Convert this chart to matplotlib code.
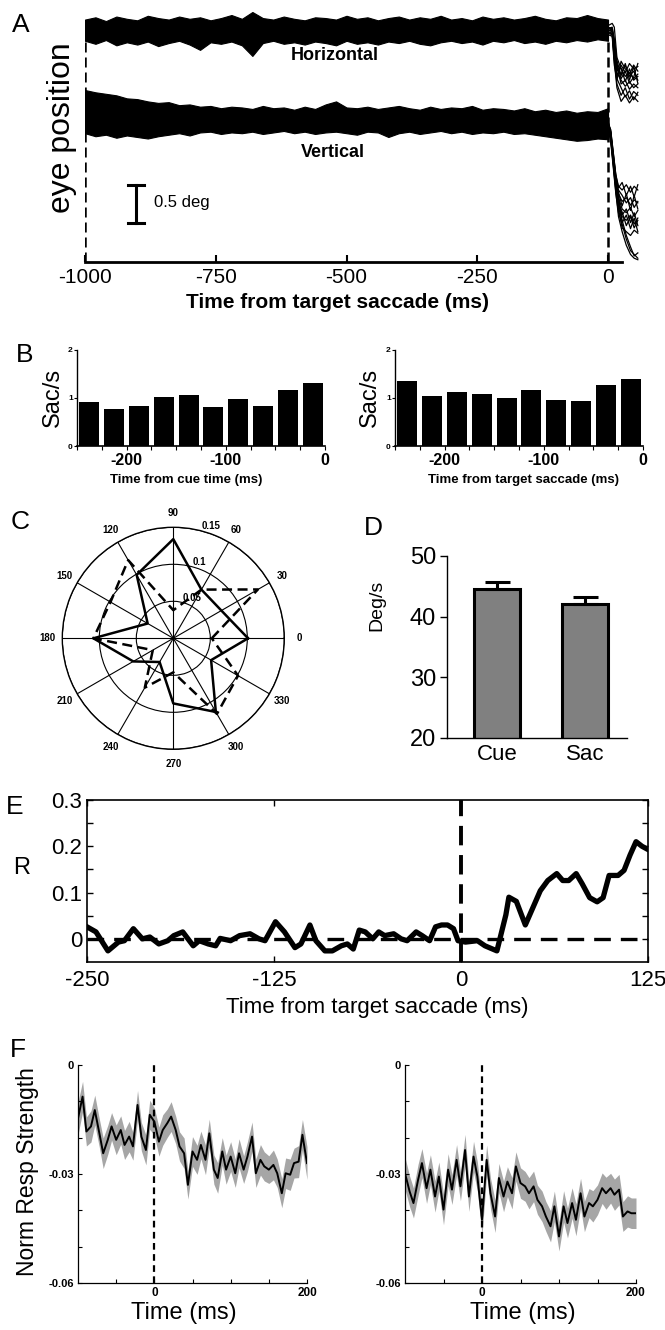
import numpy as np
import matplotlib
matplotlib.use('Agg')
import matplotlib.pyplot as plt
from matplotlib.ticker import MultipleLocator, FixedLocator

plt.rcParams['font.family'] = ['Liberation Sans', 'DejaVu Sans']

# ---------------- Panel A: eye position traces (deg) ----------------
A_T = [-1000, -980, -960, -940, -920, -900, -880, -860, -840, -820, -800, -780, -760,
       -740, -720, -700, -680, -660, -640, -620, -600, -580, -560, -540, -520, -500,
       -480, -460, -440, -420, -400, -380, -360, -340, -320, -300, -280, -260, -240,
       -220, -200, -180, -160, -140, -120, -100, -80, -60, -40, -20, 0]
A_H_HI = [3.20, 3.23, 3.18, 3.24, 3.21, 3.19, 3.25, 3.22, 3.20, 3.24,
          3.21, 3.23, 3.19, 3.22, 3.26, 3.21, 3.30, 3.22, 3.20, 3.24,
          3.21, 3.19, 3.23, 3.22, 3.20, 3.25, 3.21, 3.23, 3.19, 3.22,
          3.24, 3.20, 3.23, 3.21, 3.25, 3.20, 3.22, 3.19, 3.24, 3.21,
          3.23, 3.20, 3.22, 3.25, 3.21, 3.19, 3.23, 3.22, 3.26, 3.22, 3.20]
A_H_LO = [2.92, 2.88, 2.93, 2.86, 2.90, 2.87, 2.91, 2.85, 2.89, 2.92,
          2.87, 2.80, 2.90, 2.88, 2.91, 2.86, 2.72, 2.89, 2.92, 2.88,
          2.90, 2.87, 2.91, 2.89, 2.86, 2.92, 2.88, 2.90, 2.87, 2.91,
          2.89, 2.92, 2.88, 2.86, 2.90, 2.92, 2.89, 2.91, 2.87, 2.92,
          2.90, 2.93, 2.89, 2.91, 2.88, 2.92, 2.90, 2.93, 2.91, 2.94, 2.92]
A_V_HI = [2.27, 2.24, 2.22, 2.20, 2.16, 2.15, 2.12, 2.10, 2.11, 2.07,
          2.08, 2.05, 2.06, 2.03, 2.05, 2.04, 2.02, 2.06, 2.03, 2.04,
          2.01, 2.05, 2.02, 2.08, 2.12, 2.04, 2.03, 2.05, 2.02, 2.04,
          2.06, 2.03, 2.01, 2.05, 2.02, 2.04, 2.03, 2.06, 2.01, 2.03,
          2.02, 2.00, 2.03, 1.99, 2.01, 1.98, 2.00, 1.97, 1.99, 1.98, 2.03]
A_V_LO = [1.70, 1.66, 1.68, 1.64, 1.67, 1.65, 1.63, 1.66, 1.68, 1.70,
          1.67, 1.71, 1.72, 1.69, 1.71, 1.70, 1.72, 1.69, 1.71, 1.73,
          1.70, 1.72, 1.69, 1.71, 1.72, 1.70, 1.68, 1.72, 1.71, 1.65,
          1.70, 1.72, 1.69, 1.71, 1.73, 1.70, 1.72, 1.69, 1.71, 1.70,
          1.72, 1.69, 1.70, 1.68, 1.66, 1.64, 1.62, 1.60, 1.61, 1.63, 1.62]
A_SAC_T_H = [0, 8, 12, 17, 25, 33, 41, 49, 57]
A_H_SAC = [
    [3.06, 3.05, 2.80, 2.55, 2.48, 2.60, 2.45, 2.52, 2.40],
    [3.10, 3.08, 2.70, 2.35, 2.20, 2.30, 2.15, 2.25, 2.20],
    [3.02, 3.00, 2.75, 2.45, 2.60, 2.50, 2.62, 2.55, 2.58],
    [3.08, 3.10, 2.90, 2.60, 2.35, 2.40, 2.28, 2.35, 2.30],
    [3.04, 3.02, 2.65, 2.30, 2.12, 2.20, 2.10, 2.18, 2.12],
    [3.12, 3.15, 3.10, 2.70, 2.55, 2.45, 2.50, 2.42, 2.48],
    [3.06, 3.04, 2.78, 2.50, 2.40, 2.32, 2.38, 2.30, 2.35],
    [3.00, 2.98, 2.60, 2.40, 2.65, 2.55, 2.48, 2.60, 2.52],
    [3.05, 3.07, 2.85, 2.62, 2.42, 2.52, 2.36, 2.44, 2.62],
    [3.09, 3.06, 2.72, 2.42, 2.30, 2.18, 2.26, 2.14, 2.24],
    [3.03, 3.01, 2.68, 2.52, 2.56, 2.38, 2.55, 2.40, 2.45],
    [3.07, 3.09, 2.95, 2.66, 2.46, 2.62, 2.40, 2.58, 2.36],
]
A_SAC_T_V = [0, 5, 10, 15, 20, 27, 35, 43, 50, 57]
A_V_SAC = [
    [1.80, 1.70, 1.40, 1.10, 0.90, 0.80, 0.85, 0.75, 0.82, 0.78],
    [1.85, 1.72, 1.35, 1.00, 0.75, 0.60, 0.55, 0.62, 0.50, 0.58],
    [1.78, 1.65, 1.30, 0.95, 0.70, 0.45, 0.40, 0.35, 0.42, 0.38],
    [1.82, 1.75, 1.45, 1.15, 1.00, 0.95, 1.02, 0.92, 1.00, 0.95],
    [1.76, 1.60, 1.25, 0.90, 0.65, 0.50, 0.30, 0.15, 0.10, 0.05],
    [1.84, 1.70, 1.35, 1.05, 0.85, 0.70, 0.65, 0.72, 0.60, 0.68],
    [1.80, 1.68, 1.32, 0.98, 0.72, 0.55, 0.35, 0.20, 0.08, 0.12],
    [1.79, 1.66, 1.38, 1.08, 0.95, 0.88, 0.78, 0.85, 0.72, 0.80],
    [1.83, 1.72, 1.42, 1.12, 0.80, 0.62, 0.70, 0.52, 0.65, 0.48],
    [1.77, 1.62, 1.28, 0.92, 0.60, 0.40, 0.22, 0.10, 0.05, 0.03],
    [1.81, 1.69, 1.37, 1.06, 0.92, 0.74, 0.90, 0.68, 0.88, 0.70],
    [1.86, 1.74, 1.44, 1.14, 0.98, 1.05, 0.88, 1.00, 0.86, 1.02],
    [1.78, 1.64, 1.33, 1.02, 0.78, 0.66, 0.48, 0.60, 0.45, 0.55],
    [1.82, 1.71, 1.36, 1.03, 0.88, 0.52, 0.62, 0.44, 0.58, 0.40],
]
A_XTICKS = [-1000, -750, -500, -250, 0]

# ---------------- Panel B: saccade rate histograms ----------------
B_BINS = [-237.5, -212.5, -187.5, -162.5, -137.5, -112.5, -87.5, -62.5, -37.5, -12.5]
B_CUE = [0.92, 0.78, 0.84, 1.02, 1.07, 0.82, 0.97, 0.84, 1.16, 1.31]
B_SAC = [1.35, 1.05, 1.12, 1.08, 0.99, 1.17, 0.95, 0.94, 1.28, 1.40]

# ---------------- Panel C: polar direction distributions ----------------
C_ANGLES = [0, 30, 60, 90, 120, 150, 180, 210, 240, 270, 300, 330]
C_SOLID = [0.101, 0.075, 0.076, 0.134, 0.099, 0.040, 0.108, 0.0625, 0.037, 0.088, 0.115, 0.059]
C_DASHED = [0.052, 0.132, 0.076, 0.038, 0.122, 0.098, 0.108, 0.032, 0.077, 0.046, 0.118, 0.101]

# ---------------- Panel D: saccade velocity ----------------
D_CATS = ['Cue', 'Sac']
D_VALS = [44.6, 42.1]
D_ERR = [1.1, 1.1]

# ---------------- Panel E: correlation R ----------------
E_T = [-250, -244, -236, -229, -225, -219, -213, -208, -202, -196, -192, -186, -179,
       -175, -169, -164, -161, -154, -148, -141, -135, -131, -124, -118, -111, -107,
       -101, -97, -91, -86, -80, -76, -72, -68, -64, -59, -55, -51, -45, -40, -36,
       -30, -26, -21, -17, -13, -9, -5, -2, 3, 11, 16, 24, 30, 32, 37, 43, 48, 53,
       58, 64, 68, 72, 77, 81, 86, 91, 95, 99, 105, 109, 113, 117, 121, 125]
E_R = [0.026, 0.015, -0.026, -0.007, -0.004, 0.022, 0.000, 0.004, -0.011, -0.004,
       0.007, 0.015, -0.015, -0.004, -0.011, -0.015, 0.001, -0.004, 0.007, 0.011,
       0.000, -0.004, 0.037, 0.015, -0.019, -0.011, 0.030, -0.004, -0.026, -0.026,
       -0.015, -0.011, -0.022, 0.019, 0.015, 0.000, 0.015, 0.007, 0.011, 0.000,
       -0.004, 0.015, 0.007, -0.004, 0.026, 0.030, 0.030, 0.022, -0.004, -0.007,
       -0.004, -0.015, -0.026, 0.052, 0.090, 0.081, 0.030, 0.067, 0.104, 0.126,
       0.141, 0.126, 0.126, 0.141, 0.119, 0.089, 0.080, 0.089, 0.137, 0.137,
       0.148, 0.181, 0.210, 0.200, 0.193]

# ---------------- Panel F: normalized response strength ----------------
F_T = [-100, -94, -89, -83, -78, -72, -67, -61, -56, -50, -44, -39, -33, -28, -22,
       -17, -11, -6, 0, 6, 11, 17, 22, 28, 33, 39, 44, 50, 56, 61, 67, 72, 78, 83,
       89, 94, 100, 106, 111, 117, 122, 128, 133, 139, 144, 150, 156, 161, 167,
       172, 178, 183, 189, 194, 200]
F_LEFT = [-0.0147, -0.0087, -0.0183, -0.0169, -0.0124, -0.0188, -0.0243, -0.0206,
          -0.0169, -0.0206, -0.0179, -0.0220, -0.0197, -0.0224, -0.0110, -0.0197,
          -0.0234, -0.0137, -0.0156, -0.0211, -0.0179, -0.0160, -0.0142, -0.0179,
          -0.0224, -0.0243, -0.0330, -0.0238, -0.0261, -0.0220, -0.0261, -0.0188,
          -0.0288, -0.0311, -0.0238, -0.0288, -0.0252, -0.0298, -0.0243, -0.0288,
          -0.0252, -0.0197, -0.0298, -0.0261, -0.0279, -0.0288, -0.0275, -0.0298,
          -0.0353, -0.0298, -0.0302, -0.0270, -0.0266, -0.0192, -0.0270]
F_LEFT_SEM = [0.0045, 0.0042, 0.0040, 0.0043, 0.0041, 0.0039, 0.0042, 0.0040, 0.0038,
              0.0041, 0.0039, 0.0040, 0.0042, 0.0038, 0.0040, 0.0039, 0.0041, 0.0040,
              0.0038, 0.0040, 0.0042, 0.0039, 0.0041, 0.0038, 0.0040, 0.0042, 0.0039,
              0.0041, 0.0040, 0.0038, 0.0041, 0.0039, 0.0040, 0.0042, 0.0038, 0.0040,
              0.0041, 0.0039, 0.0040, 0.0038, 0.0041, 0.0040, 0.0039, 0.0042, 0.0040,
              0.0038, 0.0041, 0.0039, 0.0040, 0.0042, 0.0043, 0.0041, 0.0044, 0.0042,
              0.0045]
F_RIGHT = [-0.0298, -0.0348, -0.0380, -0.0316, -0.0270, -0.0339, -0.0288, -0.0362,
           -0.0307, -0.0398, -0.0288, -0.0343, -0.0261, -0.0334, -0.0234, -0.0362,
           -0.0252, -0.0307, -0.0426, -0.0261, -0.0353, -0.0417, -0.0311, -0.0362,
           -0.0321, -0.0353, -0.0279, -0.0325, -0.0334, -0.0353, -0.0334, -0.0371,
           -0.0389, -0.0417, -0.0444, -0.0389, -0.0472, -0.0389, -0.0435, -0.0380,
           -0.0426, -0.0353, -0.0417, -0.0380, -0.0389, -0.0371, -0.0339, -0.0353,
           -0.0339, -0.0357, -0.0343, -0.0417, -0.0403, -0.0408, -0.0408]
F_RIGHT_SEM = [0.0044, 0.0042, 0.0041, 0.0043, 0.0040, 0.0042, 0.0041, 0.0043, 0.0040,
               0.0042, 0.0044, 0.0041, 0.0042, 0.0040, 0.0043, 0.0041, 0.0042, 0.0040,
               0.0043, 0.0041, 0.0042, 0.0044, 0.0040, 0.0042, 0.0041, 0.0043, 0.0040,
               0.0042, 0.0041, 0.0043, 0.0042, 0.0040, 0.0042, 0.0041, 0.0043, 0.0042,
               0.0040, 0.0043, 0.0041, 0.0042, 0.0044, 0.0041, 0.0042, 0.0040, 0.0043,
               0.0041, 0.0042, 0.0044, 0.0041, 0.0043, 0.0042, 0.0041, 0.0043, 0.0042,
               0.0042]

W, H = 665, 1330
fig = plt.figure(figsize=(W / 100, H / 100), dpi=100)


def rect(x0, y0, x1, y1):
    return [x0 / W, 1 - y1 / H, (x1 - x0) / W, (y1 - y0) / H]


def ftext(x, y, s, **kw):
    kw.setdefault('ha', 'center')
    kw.setdefault('va', 'center')
    fig.text(x / W, 1 - y / H, s, **kw)


# ======================= Panel A =======================
axA = fig.add_axes(rect(85, 12, 639.4, 262))
axA.fill_between(A_T, A_H_LO, A_H_HI, color='black', lw=0.8, edgecolor='black')
axA.fill_between(A_T, A_V_LO, A_V_HI, color='black', lw=0.8, edgecolor='black')
for tr in A_H_SAC:
    axA.plot(A_SAC_T_H, tr, color='black', lw=0.9, clip_on=False)
for tr in A_V_SAC:
    axA.plot(A_SAC_T_V, tr, color='black', lw=0.9, clip_on=False)
axA.plot([-1000, -1000], [0, 2.93], color='black', lw=1.8, ls=(0, (4, 2)))
axA.plot([0, 0], [0, 2.93], color='black', lw=1.8, ls=(0, (4, 2)))
# scale bar
axA.plot([-902, -902], [0.515, 1.015], color='black', lw=2.2)
axA.plot([-917, -887], [0.515, 0.515], color='black', lw=2.2)
axA.plot([-917, -887], [1.015, 1.015], color='black', lw=2.2)
axA.text(-868, 0.78, '0.5 deg', fontsize=12, va='center', ha='left')
axA.text(-522, 2.73, 'Horizontal', fontsize=13, fontweight='bold', ha='center', va='center')
axA.text(-526, 1.45, 'Vertical', fontsize=13, fontweight='bold', ha='center', va='center')
axA.set_xlim(-1000, 60)
axA.set_ylim(0, 3.3)
for s in ['left', 'top', 'right']:
    axA.spines[s].set_visible(False)
axA.spines['bottom'].set_linewidth(2.0)
axA.spines['bottom'].set_bounds(-1000, 27)
axA.set_yticks([])
axA.set_xticks(A_XTICKS)
axA.set_xticklabels([str(v) for v in A_XTICKS], fontsize=15)
axA.tick_params(axis='x', direction='in', length=5, width=1.5, pad=4)
ftext(21, 25, 'A', fontsize=19)
ftext(62, 128, 'eye position', fontsize=23, rotation=90)
ftext(338, 302, 'Time from target saccade (ms)', fontsize=15, fontweight='bold')


# ======================= Panel B =======================
def bar_panel(r, vals, xlabel, xlab_x, ylab_x):
    ax = fig.add_axes(rect(*r))
    ax.bar(B_BINS, vals, width=20, color='black')
    ax.set_xlim(-250, 0)
    ax.set_ylim(0, 2)
    for s in ['top', 'right']:
        ax.spines[s].set_visible(False)
    ax.spines['left'].set_linewidth(1)
    ax.spines['bottom'].set_linewidth(1.2)
    ax.set_xticks([-200, -100, 0])
    ax.set_xticklabels(['-200', '-100', '0'], fontsize=11.5, fontweight='bold')
    ax.xaxis.set_minor_locator(MultipleLocator(25))
    ax.tick_params(axis='x', which='both', direction='out', length=3, width=0.8, pad=2)
    ax.set_yticks([0, 1, 2])
    ax.set_yticklabels(['0', '1', '2'], fontsize=6, fontweight='bold')
    ax.tick_params(axis='y', direction='out', length=2, width=0.8, pad=1)
    ftext(xlab_x, 480, xlabel, fontsize=9.5, fontweight='bold')
    ftext(ylab_x, 397, 'Sac/s', fontsize=17, rotation=90)
    return ax


bar_panel((77, 350, 325, 446), B_CUE, 'Time from cue time (ms)', 186, 53)
bar_panel((395, 350, 643, 446), B_SAC, 'Time from target saccade (ms)', 524, 370)
ftext(25, 355, 'B', fontsize=19)

# ======================= Panel C =======================
axC = fig.add_axes(rect(62.3, 527.3, 284.3, 749.3), projection='polar')
ang = np.deg2rad(C_ANGLES + [C_ANGLES[0]])
axC.plot(ang, C_SOLID + [C_SOLID[0]], color='black', lw=1.8)
axC.plot(ang, C_DASHED + [C_DASHED[0]], color='black', lw=1.8, ls=(0, (4, 2.2)))
axC.set_ylim(0, 0.15)
axC.set_yticks([0.05, 0.1, 0.15])
axC.set_yticklabels(['0.05', '0.1', '0.15'], fontsize=7, fontweight='bold')
axC.set_rlabel_position(75)
axC.set_thetagrids(C_ANGLES, labels=[str(a) for a in C_ANGLES], fontsize=7,
                   fontweight='bold')
axC.tick_params(axis='x', pad=0)
axC.grid(True, color='black', lw=0.8, ls='-')
axC.spines['polar'].set_linewidth(1.0)
ftext(20, 522, 'C', fontsize=19)

# ======================= Panel D =======================
axD = fig.add_axes(rect(447, 556, 627, 738))
xD = [0, 1]
axD.bar(xD, D_VALS, width=0.52, color='#808080', edgecolor='black', linewidth=2.2)
axD.errorbar(xD, D_VALS, yerr=[[0, 0], D_ERR], fmt='none', ecolor='black',
             elinewidth=2.2, capsize=9, capthick=2.2)
axD.set_xlim(-0.57, 1.48)
axD.set_ylim(20, 50)
for s in ['top', 'right']:
    axD.spines[s].set_visible(False)
axD.spines['left'].set_linewidth(1)
axD.spines['bottom'].set_linewidth(1)
axD.set_yticks([20, 30, 40, 50])
axD.set_yticklabels(['20', '30', '40', '50'], fontsize=17)
axD.tick_params(axis='y', direction='out', length=5, width=1, pad=3)
axD.set_xticks(xD)
axD.set_xticklabels(D_CATS, fontsize=16)
axD.tick_params(axis='x', length=0, pad=4)
ftext(377, 605, 'Deg/s', fontsize=14, rotation=90)
ftext(373, 528, 'D', fontsize=19)

# ======================= Panel E =======================
axE = fig.add_axes(rect(87, 800, 648, 962))
axE.axhline(0, color='black', lw=2.4, ls=(0, (5, 3)))
axE.axvline(0, color='black', lw=2.8, ls=(0, (5, 2.5)))
axE.plot(E_T, E_R, color='black', lw=3.8, solid_joinstyle='round')
axE.set_xlim(-250, 125)
axE.set_ylim(-0.05, 0.3)
for s in axE.spines.values():
    s.set_linewidth(1.2)
axE.set_xticks([-250, -125, 0, 125])
axE.set_xticklabels(['-250', '-125', '0', '125'], fontsize=16)
axE.set_yticks([0, 0.1, 0.2, 0.3])
axE.set_yticklabels(['0', '0.1', '0.2', '0.3'], fontsize=16)
axE.yaxis.set_minor_locator(FixedLocator([0.05, 0.15, 0.25]))
axE.tick_params(axis='both', which='both', direction='in', top=True, right=True,
                length=4, width=1)
axE.tick_params(axis='x', pad=6)
ftext(377, 1008, 'Time from target saccade (ms)', fontsize=16)
ftext(22, 868, 'R', fontsize=17)
ftext(15, 807, 'E', fontsize=19)


# ======================= Panel F =======================
def f_panel(r, mean, sem, xlab_x):
    ax = fig.add_axes(rect(*r))
    lo = [m - s for m, s in zip(mean, sem)]
    hi = [m + s for m, s in zip(mean, sem)]
    ax.fill_between(F_T, lo, hi, color='#a6a6a6', lw=0)
    ax.plot(F_T, mean, color='black', lw=1.4)
    ax.axvline(0, color='black', lw=1.6, ls=(0, (3, 2)))
    ax.set_xlim(-100, 200)
    ax.set_ylim(-0.06, 0)
    for s in ['top', 'right']:
        ax.spines[s].set_visible(False)
    ax.spines['left'].set_linewidth(0.9)
    ax.spines['bottom'].set_linewidth(0.9)
    ax.set_xticks([0, 200])
    ax.set_xticklabels(['0', '200'], fontsize=8.5, fontweight='bold')
    ax.xaxis.set_minor_locator(FixedLocator([-50, 50, 100, 150]))
    ax.set_yticks([-0.06, -0.03, 0])
    ax.set_yticklabels(['-0.06', '-0.03', '0'], fontsize=8, fontweight='bold')
    ax.yaxis.set_minor_locator(FixedLocator([-0.05, -0.04, -0.02, -0.01]))
    ax.tick_params(axis='both', which='both', direction='in', length=3, width=0.8, pad=3)
    ftext(xlab_x, 1313, 'Time (ms)', fontsize=17)
    return ax


f_panel((78, 1065, 307, 1283), F_LEFT, F_LEFT_SEM, 184)
f_panel((405, 1065, 636, 1283), F_RIGHT, F_RIGHT_SEM, 523)
ftext(28, 1172, 'Norm Resp Strength', fontsize=16.5, rotation=90)
ftext(18, 1050, 'F', fontsize=19)

fig.savefig('out.png', dpi=100)
